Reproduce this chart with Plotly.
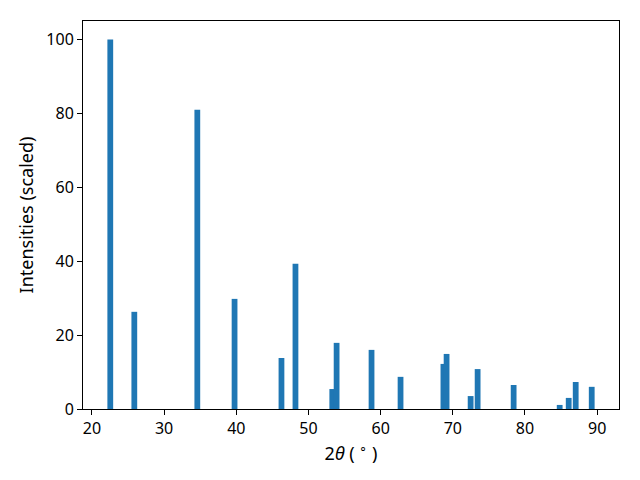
import plotly.graph_objects as go

two_theta = [22.54, 25.87, 34.6, 39.76, 46.26, 48.2, 53.3, 53.9, 58.74, 62.76,
             68.7, 69.14, 72.47, 73.44, 78.43, 84.81, 86.06, 87.03, 89.25]
intensity = [100, 26.3, 81.0, 29.8, 13.8, 39.3, 5.4, 17.9, 16.0, 8.7,
             12.2, 14.9, 3.5, 10.8, 6.5, 1.1, 3.0, 7.3, 6.0]
x_ticks = [20, 30, 40, 50, 60, 70, 80, 90]
y_ticks = [0, 20, 40, 60, 80, 100]

FONT = "Noto Sans"
fig = go.Figure(go.Bar(x=two_theta, y=intensity, width=[0.8] * len(two_theta),
                       marker=dict(color="#1f77b4", line=dict(width=0))))

axis_common = dict(showgrid=False, zeroline=False, showline=True, linecolor="black",
                   linewidth=1, mirror=True, ticks="outside", ticklen=5, tickwidth=1,
                   tickcolor="black", automargin=False,
                   tickfont=dict(family=FONT, size=16, color="black"))

# the page body adds an 8px offset; the figure size and margins compensate for it
fig.update_layout(
    width=624, height=464, plot_bgcolor="white", paper_bgcolor="white",
    margin=dict(l=75, r=13, t=13, b=63), barmode="overlay", showlegend=False,
    font=dict(family=FONT, size=16, color="black"),
    xaxis=dict(range=[18.76, 93.03], tickvals=x_ticks,
               title=dict(text="2<i>θ</i> ( <sup>∘</sup> )", standoff=6,
                          font=dict(family=FONT, size=18, color="black")), **axis_common),
    yaxis=dict(range=[0, 105], tickvals=y_ticks,
               title=dict(text="Intensities (scaled)", standoff=8,
                          font=dict(family=FONT, size=18, color="black")), **axis_common),
)

fig.write_html("out.html")
